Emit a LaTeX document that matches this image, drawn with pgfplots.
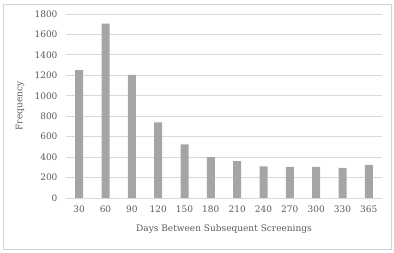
\documentclass[border=0pt]{standalone}
\usepackage{pgfplots}
\pgfplotsset{compat=1.18}
\usepackage{fontspec}
\setmainfont{DejaVu Serif}
\definecolor{barfill}{RGB}{165,165,165}
\definecolor{gridc}{RGB}{217,217,217}
\definecolor{textc}{RGB}{89,89,89}
\definecolor{framec}{RGB}{210,210,210}
\begin{document}
\begin{tikzpicture}
\useasboundingbox (0,0) rectangle (394pt,252pt);
\draw[framec, line width=0.8pt] (3pt,3pt) rectangle (391pt,248pt);
\begin{axis}[
  at={(66pt,54pt)}, anchor=south west,
  scale only axis, width=316pt, height=184pt,
  font=\fontsize{9}{11}\selectfont,
  /pgf/number format/assume math mode=true,
  xmin=-0.5, xmax=11.5, ymin=0, ymax=1800,
  ytick={0,200,...,1800},
  xtick=data,
  xticklabels={30,60,90,120,150,180,210,240,270,300,330,365},
  ymajorgrids, grid style={gridc, line width=0.8pt},
  axis line style={draw=none},
  major tick length=0pt,
  tick label style={textc},
  yticklabel style={xshift=-5pt},
  xticklabel style={yshift=-4pt},
  ylabel={Frequency}, xlabel={Days Between Subsequent Screenings},
  label style={textc},
  ylabel style={at={(axis description cs:-0.145,0.5)}, anchor=center},
  xlabel style={at={(axis description cs:0.5,-0.168)}, anchor=center},
  /pgf/number format/1000 sep={},
]
\addplot[ybar, bar width=8pt, fill=barfill, draw=none] coordinates {
  (0,1250) (1,1705) (2,1205) (3,740) (4,525) (5,400)
  (6,360) (7,310) (8,305) (9,305) (10,295) (11,325)
};
\end{axis}
\end{tikzpicture}
\end{document}
